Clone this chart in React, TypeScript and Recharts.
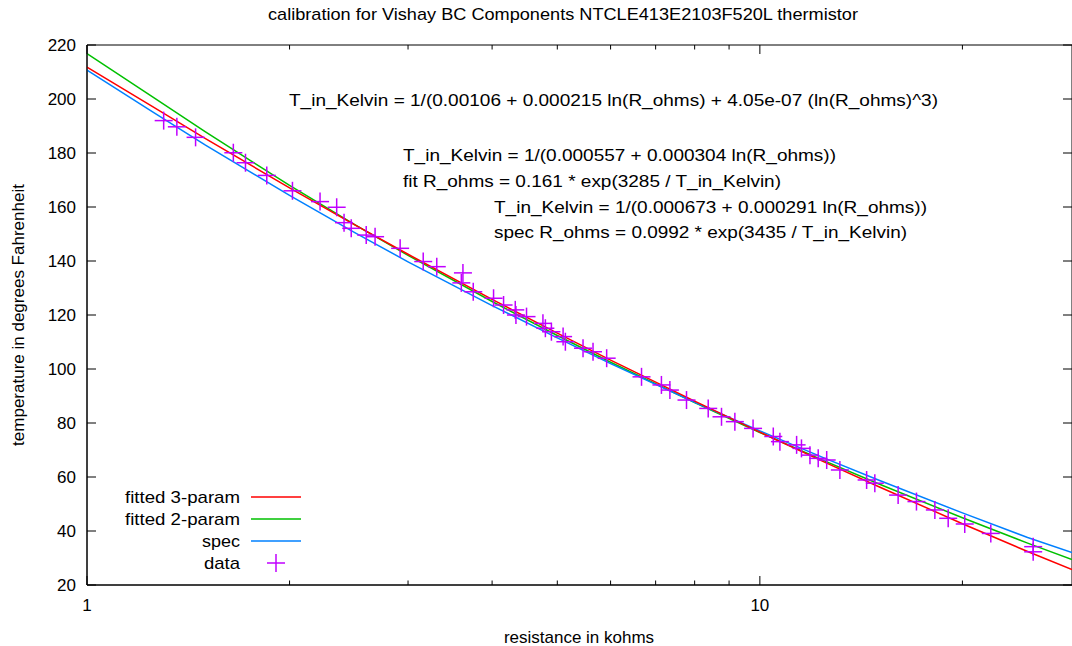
import React from "react";
import { ComposedChart, Line, Scatter, XAxis, YAxis, ReferenceArea } from "recharts";

const LINE_R = [1, 1.25, 1.5, 2, 2.5, 3, 4, 5, 6, 8, 10, 12.5, 15, 20, 25, 29.1];
const FIT3 = [211.8, 197.3, 185.3, 167.1, 153.4, 142.5, 125.8, 113.3, 103.3, 88.1, 76.6, 65.4, 56.5, 42.7, 32.4, 25.7];
const FIT2 = [216.8, 200.9, 187.8, 168.0, 153.5, 142.1, 125.0, 112.4, 102.5, 87.6, 76.5, 65.9, 57.5, 44.9, 35.5, 29.4];
const SPEC = [210.7, 195.3, 182.9, 164.3, 150.5, 139.7, 123.5, 111.5, 102.0, 87.7, 77.1, 66.9, 58.9, 46.7, 37.6, 32.0];

// measured points
const DATA_R = [
  1.30, 1.36, 1.45, 1.65, 1.72, 1.85, 2.02, 2.22, 2.35, 2.41, 2.47, 2.60, 2.68, 2.92, 3.16,
  3.31, 3.62, 3.60, 3.75, 4.02, 4.16, 4.33, 4.34, 4.50, 4.76, 4.80, 4.90, 5.10, 5.14, 5.46,
  5.65, 5.92, 6.67, 7.14, 7.35, 7.78, 8.38, 8.77, 9.18, 9.77, 10.47, 10.71, 11.34, 11.53,
  11.87, 12.21, 12.57, 13.15, 14.41, 14.82, 16.05, 17.09, 18.20, 19.05, 20.16, 22.04, 25.48, 25.48,
];
const DATA_T = [
  192.0, 189.7, 185.8, 180.1, 176.4, 171.7, 166.0, 162.0, 159.9, 154.2, 152.1, 149.6, 149.0, 144.7, 139.8,
  137.9, 135.6, 131.9, 128.6, 126.2, 123.7, 121.9, 120.0, 119.4, 116.9, 115.1, 113.8, 112.0, 110.1, 107.7,
  106.4, 104.0, 97.1, 94.1, 92.2, 88.5, 85.4, 82.3, 80.5, 78.0, 75.0, 73.1, 71.9, 70.6,
  68.1, 66.9, 66.3, 62.6, 58.9, 57.7, 53.3, 50.9, 47.8, 44.7, 42.6, 39.1, 34.2, 32.3,
];

const X_TICKS = [1, 2, 3, 4, 5, 6, 7, 8, 9, 10, 20];
const X_LABELED = [1, 10];
const Y_TICKS = [20, 40, 60, 80, 100, 120, 140, 160, 180, 200, 220];

const TITLE = "calibration for Vishay BC Components NTCLE413E2103F520L thermistor";
const NOTES = [
  "T_in_Kelvin = 1/(0.00106 + 0.000215 ln(R_ohms) + 4.05e-07 (ln(R_ohms)^3)",
  "T_in_Kelvin = 1/(0.000557 + 0.000304 ln(R_ohms))",
  "fit R_ohms = 0.161 * exp(3285 / T_in_Kelvin)",
  "T_in_Kelvin = 1/(0.000673 + 0.000291 ln(R_ohms))",
  "spec R_ohms = 0.0992 * exp(3435 / T_in_Kelvin)",
];
const LEGEND = [
  { name: "fitted 3-param", color: "#ff0000" },
  { name: "fitted 2-param", color: "#00c000" },
  { name: "spec", color: "#0080ff" },
  { name: "data", color: "#c000ff" },
];

const W = 1072;
const H = 646;
const TOP = 45;
const BOTTOM = 585;
const LEFT = 87;
const RIGHT = 1072;
const FONT = "'Liberation Sans', Arial, Helvetica, sans-serif";
const FS = 17;

// where the annotation lines sit and how wide they run in the reference
const NOTE_POS = [
  { x: 289, y: 106, w: 649 },
  { x: 403, y: 161, w: 433 },
  { x: 403, y: 187, w: 378 },
  { x: 494, y: 213, w: 433 },
  { x: 494, y: 238, w: 413 },
];
const LEGEND_W = [115, 115, 38, 36];

const toRows = (ys: number[]) => LINE_R.map((r, i) => ({ r, t: ys[i] }));
const pts = DATA_R.map((r, i) => ({ r, t: DATA_T[i] }));

const XTick = (props: any) => {
  const { x, payload } = props;
  const major = X_LABELED.includes(payload.value);
  const len = major ? 9 : 4.5;
  return (
    <g>
      <line x1={x} x2={x} y1={BOTTOM} y2={BOTTOM - len} stroke="#000" />
      <line x1={x} x2={x} y1={TOP} y2={TOP + len} stroke="#000" />
      {major && (
        <text x={x} y={BOTTOM + 26} textAnchor="middle" fontSize={FS} fontFamily={FONT} fill="#000">
          {payload.value}
        </text>
      )}
    </g>
  );
};

const YTick = (props: any) => {
  const { y, payload } = props;
  return (
    <g>
      <line x1={LEFT} x2={LEFT + 9} y1={y} y2={y} stroke="#000" />
      <line x1={RIGHT} x2={RIGHT - 9} y1={y} y2={y} stroke="#000" />
      <text x={LEFT - 11} y={y + 6} textAnchor="end" fontSize={FS} fontFamily={FONT} fill="#000">
        {payload.value}
      </text>
    </g>
  );
};

const Plus = (props: any) => {
  const { cx, cy } = props;
  if (cx == null || cy == null) return <g />;
  return (
    <g stroke="#c000ff" strokeWidth={1.5}>
      <line x1={cx - 9} x2={cx + 9} y1={cy} y2={cy} />
      <line x1={cx} x2={cx} y1={cy - 9} y2={cy + 9} />
    </g>
  );
};

export default function App() {
  return (
    <div style={{ position: "absolute", left: 0, top: 0, width: W, height: H, background: "#fff" }}>
      <ComposedChart width={W} height={H} margin={{ top: TOP, right: 0, bottom: 31, left: 27 }}>
        <XAxis
          dataKey="r"
          type="number"
          scale="log"
          domain={[1, 29.1]}
          allowDataOverflow
          ticks={X_TICKS}
          interval={0}
          tickSize={0}
          tickMargin={0}
          tickLine={false}
          tick={<XTick />}
          axisLine={{ stroke: "#000" }}
          height={30}
        />
        <YAxis
          dataKey="t"
          type="number"
          domain={[20, 220]}
          allowDataOverflow
          ticks={Y_TICKS}
          interval={0}
          tickSize={0}
          tickMargin={0}
          tickLine={false}
          tick={<YTick />}
          axisLine={{ stroke: "#000" }}
          width={60}
        />
        <ReferenceArea x1={1} x2={29.1} y1={20} y2={220} fill="none" stroke="#000" strokeWidth={1} ifOverflow="visible" />
        <Line data={toRows(FIT2)} dataKey="t" stroke="#00c000" strokeWidth={1.5} dot={false} isAnimationActive={false} />
        <Line data={toRows(SPEC)} dataKey="t" stroke="#0080ff" strokeWidth={1.5} dot={false} isAnimationActive={false} />
        <Line data={toRows(FIT3)} dataKey="t" stroke="#ff0000" strokeWidth={1.5} dot={false} isAnimationActive={false} />
        <Scatter data={pts} dataKey="t" shape={<Plus />} isAnimationActive={false} />
      </ComposedChart>

      <svg
        width={W}
        height={H}
        style={{ position: "absolute", left: 0, top: 0, pointerEvents: "none" }}
        fontFamily={FONT}
        fontSize={FS}
      >
        <text x={268} y={20} textLength={590} lengthAdjust="spacingAndGlyphs">{TITLE}</text>
        {NOTES.map((note, i) => (
          <text key={i} x={NOTE_POS[i].x} y={NOTE_POS[i].y} textLength={NOTE_POS[i].w} lengthAdjust="spacingAndGlyphs">
            {note}
          </text>
        ))}
        <text x={18} y={315} textAnchor="middle" dominantBaseline="central" transform="rotate(-90 18 315)">
          temperature in degrees Fahrenheit
        </text>
        <text x={579} y={643} textAnchor="middle">resistance in kohms</text>
        {LEGEND.map((item, i) => {
          const cy = 497 + i * 22;
          return (
            <g key={item.name}>
              <text x={240 - LEGEND_W[i]} y={cy + 6} textLength={LEGEND_W[i]} lengthAdjust="spacingAndGlyphs">
                {item.name}
              </text>
              {item.name === "data" ? (
                <g stroke={item.color} strokeWidth={1.5}>
                  <line x1={267} x2={285} y1={cy} y2={cy} />
                  <line x1={276} x2={276} y1={cy - 9} y2={cy + 9} />
                </g>
              ) : (
                <line x1={251} x2={301} y1={cy} y2={cy} stroke={item.color} strokeWidth={1.5} />
              )}
            </g>
          );
        })}
      </svg>
    </div>
  );
}
